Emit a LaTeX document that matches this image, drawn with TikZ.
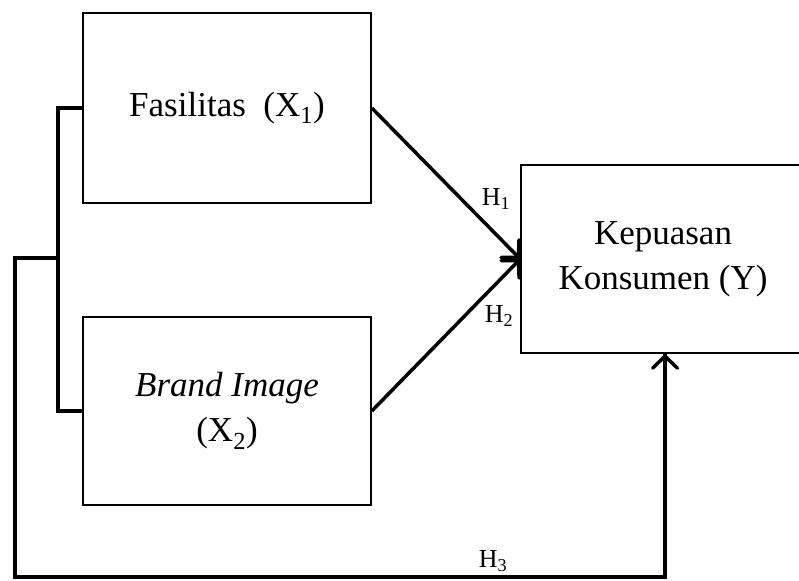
\documentclass[tikz,border=0pt]{standalone}
\usepackage{fontspec}
\setmainfont{Liberation Serif}
\usetikzlibrary{arrows.meta}
\tikzset{kotak/.style={draw, line width=1.6pt, minimum width=288pt, minimum height=190pt,
   align=center, font=\fontsize{35}{45}\selectfont, inner sep=0pt},
 panah/.style={line width=3.5pt, -{Straight Barb[length=12pt,width=25pt,line cap=round]}},
 garis/.style={line width=3.5pt},
 hipo/.style={font=\fontsize{26}{30}\selectfont, inner sep=0pt},
 }

\begin{document}
\begin{tikzpicture}[x=1pt, y=-1pt]
        \clip (0,0) rectangle (799,580);
        \node[kotak] (fas) at (227,108) {Fasilitas\ \ (X\textsubscript{1})};
        \node[kotak, minimum height=188pt] (brand) at (227,411) {\textit{Brand Image}\\(X\textsubscript{2})};
        \node[kotak, minimum width=284pt, minimum height=188pt] (puas) at (663,259) {Kepuasan\\Konsumen (Y)};
        \coordinate (cabang) at (59,258);
        \coordinate (pojok) at (15,577);
        % bracket X1 - X2
        \draw[garis] (fas.west) -- ++(-24,0) |- (brand.west);
        \draw[garis] (cabang) -- (cabang -| pojok) -- (pojok) -| ([xshift=2pt]puas.south);
        \draw[panah] ([xshift=2pt]puas.south |- pojok) -- ([xshift=2pt]puas.south);
        \draw[panah] (fas.east) -- (puas.west);
        \draw[panah] (brand.east) -- (puas.west);
        \node[hipo] (h1) at (496,199) {H\textsubscript{1}};
        \node[hipo] (h2) at (499,316) {H\textsubscript{2}};
        \node[hipo] (h3) at (493,561) {H\textsubscript{3}};
    \end{tikzpicture}
\end{document}
